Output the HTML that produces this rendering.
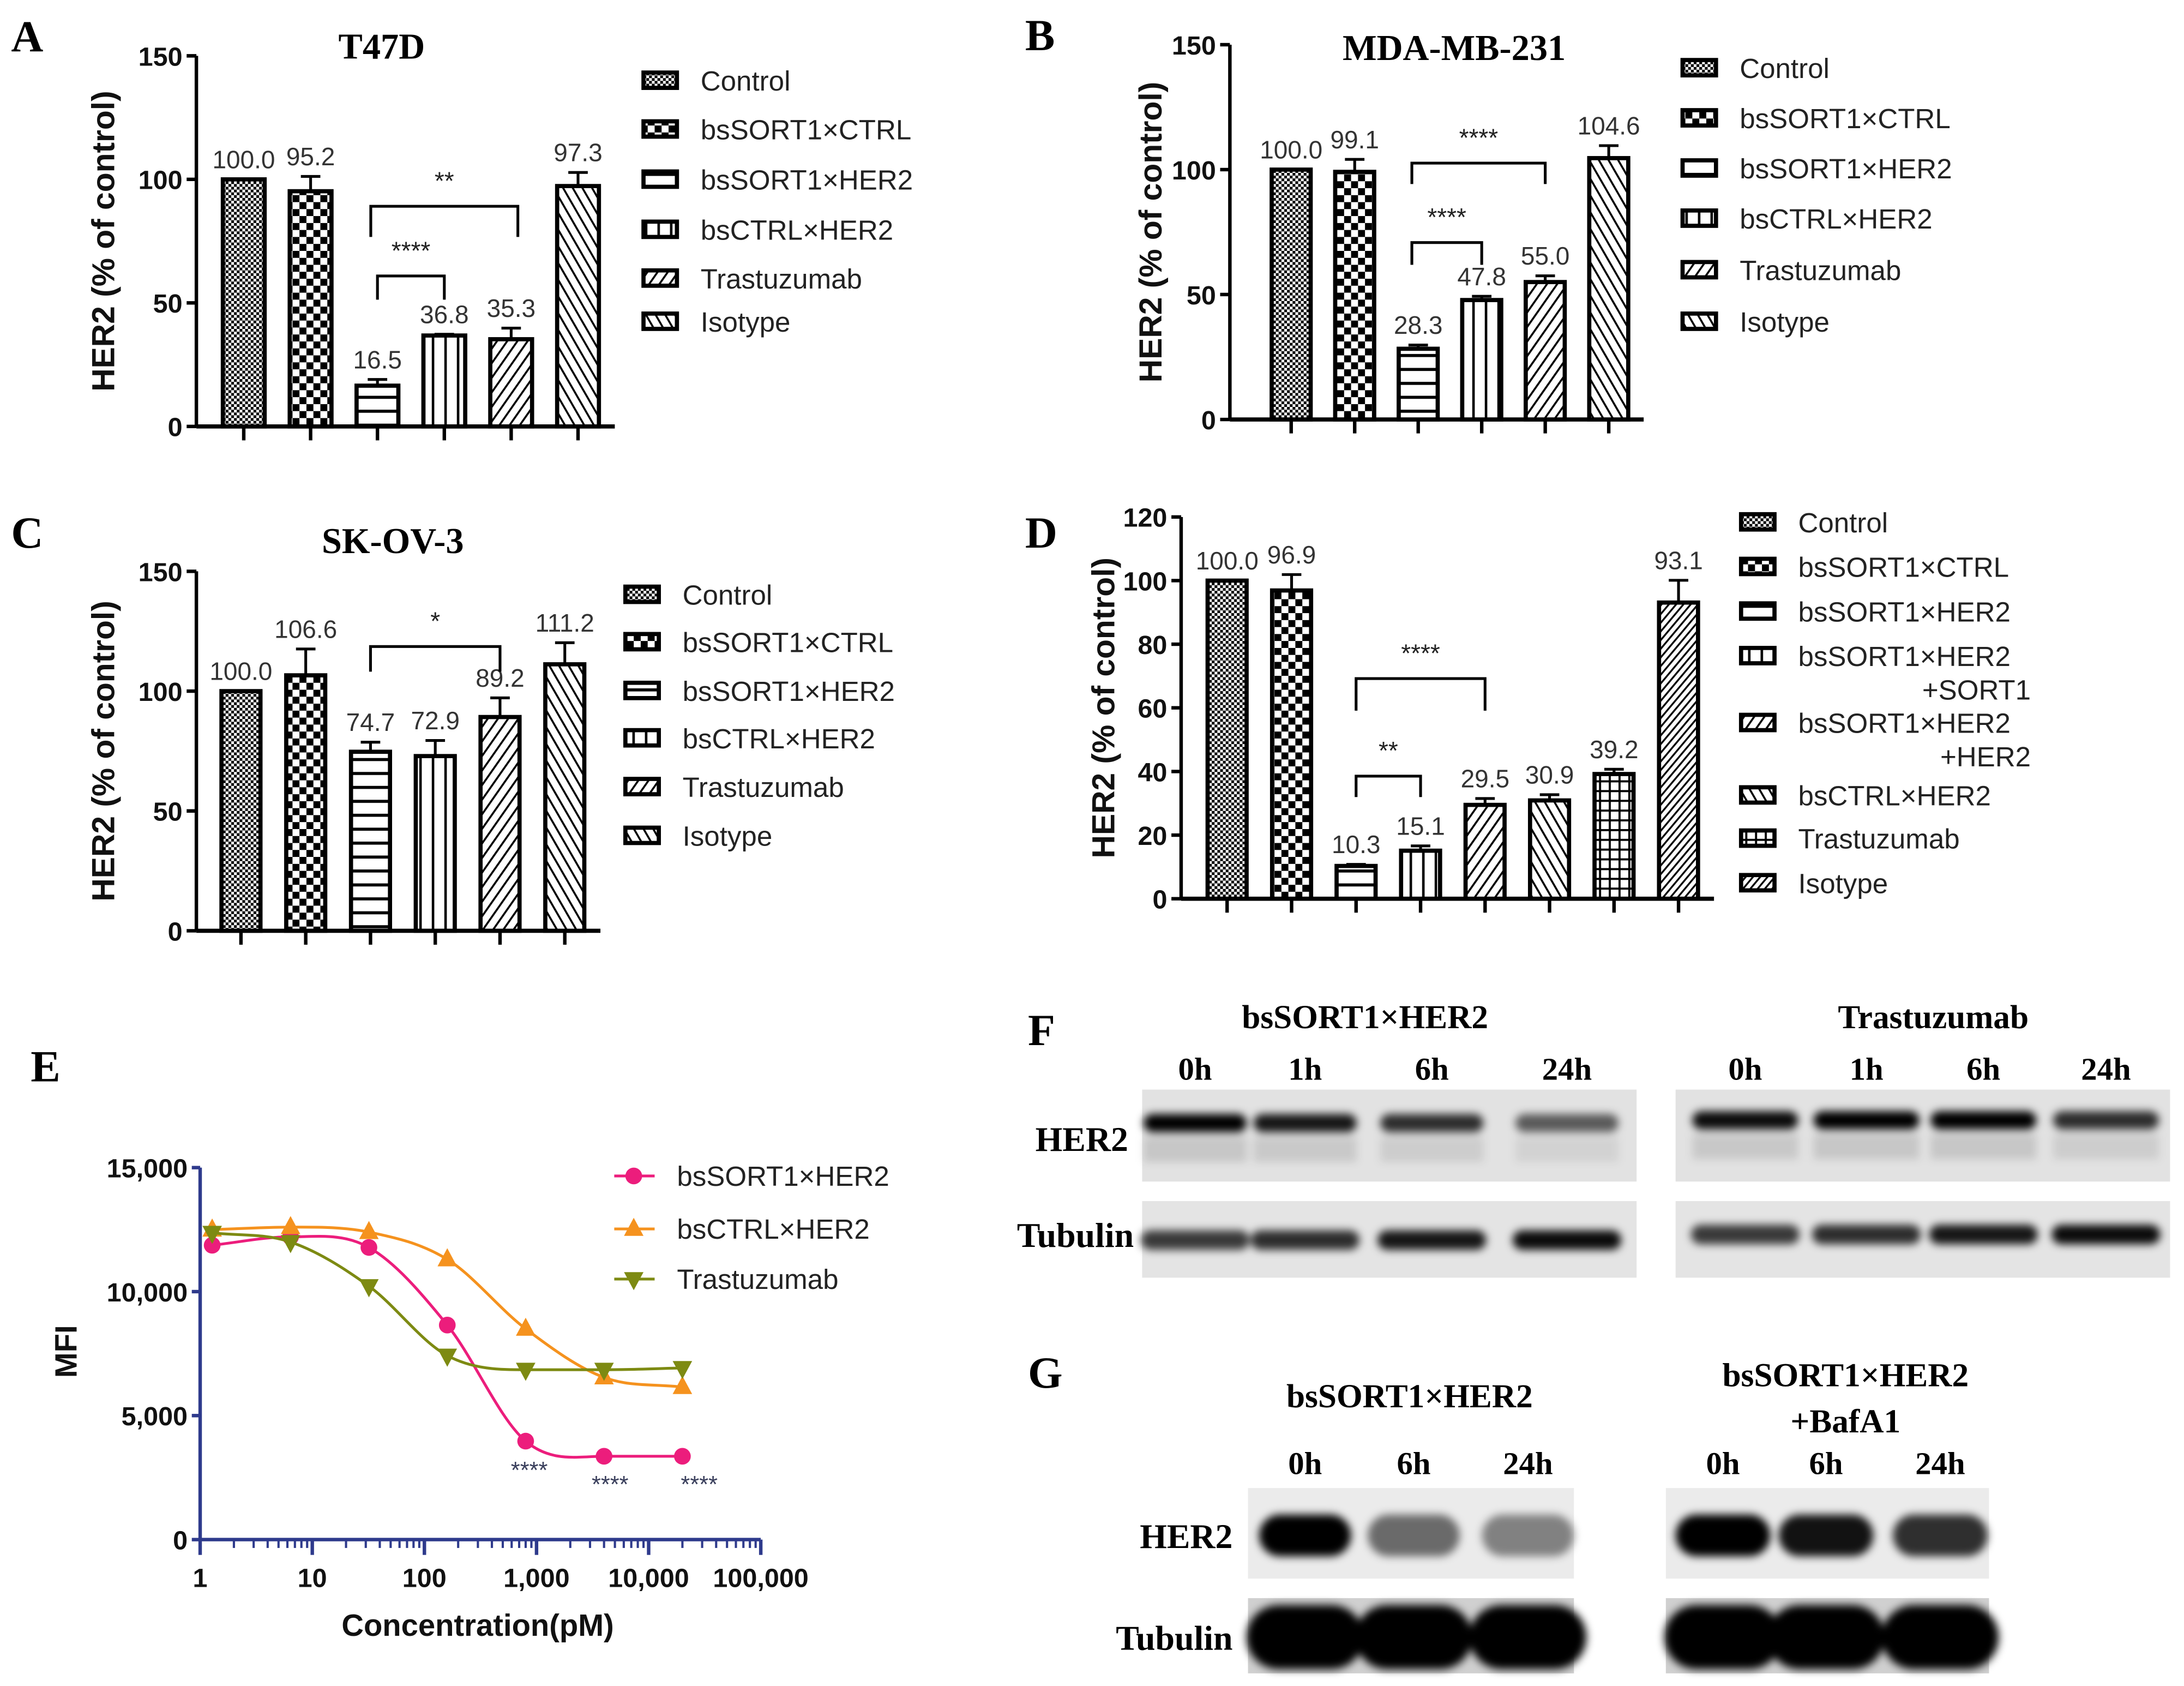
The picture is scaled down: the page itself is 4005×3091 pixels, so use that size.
<!DOCTYPE html>
<html><head><meta charset="utf-8"><style>
html,body{margin:0;padding:0;background:#fff;}
svg{display:block;}
text{font-family:"Liberation Sans",sans-serif;}
.serif{font-family:"Liberation Serif",serif;font-weight:bold;}
</style></head><body>
<svg id="fig" width="4005" height="3091" viewBox="0 0 1568 1210" xmlns="http://www.w3.org/2000/svg">
<defs>
<pattern id="p-fine" patternUnits="userSpaceOnUse" width="4" height="4"><rect width="4" height="4" fill="#fff"/><rect width="2" height="2" fill="#000"/><rect x="2" y="2" width="2" height="2" fill="#000"/></pattern>
<pattern id="p-check" patternUnits="userSpaceOnUse" width="10" height="10"><rect width="10" height="10" fill="#fff"/><rect width="5" height="5" fill="#000"/><rect x="5" y="5" width="5" height="5" fill="#000"/></pattern>
<pattern id="p-h" patternUnits="userSpaceOnUse" width="10" height="10"><rect width="10" height="10" fill="#fff"/><rect y="4" width="10" height="2.2" fill="#000"/></pattern>
<pattern id="p-v" patternUnits="userSpaceOnUse" width="9" height="10"><rect width="9" height="10" fill="#fff"/><rect x="4" width="1.8" height="10" fill="#000"/></pattern>
<pattern id="p-d" patternUnits="userSpaceOnUse" width="6" height="6" patternTransform="rotate(35)"><rect width="6" height="6" fill="#fff"/><rect width="1.4" height="6" fill="#000"/></pattern>
<pattern id="p-b" patternUnits="userSpaceOnUse" width="6" height="6" patternTransform="rotate(-30)"><rect width="6" height="6" fill="#fff"/><rect width="1.4" height="6" fill="#000"/></pattern>
<pattern id="p-grid" patternUnits="userSpaceOnUse" width="7" height="7"><rect width="7" height="7" fill="#fff"/><rect width="7" height="1.5" fill="#000"/><rect width="1.5" height="7" fill="#000"/></pattern>
<pattern id="p-dd" patternUnits="userSpaceOnUse" width="4" height="4" patternTransform="rotate(40)"><rect width="4" height="4" fill="#fff"/><rect width="1.3" height="4" fill="#000"/></pattern>
<filter id="blur3" x="-50%" y="-100%" width="200%" height="300%"><feGaussianBlur stdDeviation="3"/></filter>
<filter id="blur5" x="-50%" y="-100%" width="200%" height="300%"><feGaussianBlur stdDeviation="5"/></filter>
</defs>
</svg>
<script>
const NS='http://www.w3.org/2000/svg';
const svg=document.getElementById('fig');
function mk(tag,attrs,parent,txt){const e=document.createElementNS(NS,tag);for(const k in attrs)e.setAttribute(k,attrs[k]);if(txt!==undefined)e.textContent=txt;(parent||svg).appendChild(e);return e;}

// ---------- data ----------
const A_cats=['Control','bsSORT1×CTRL','bsSORT1×HER2','bsCTRL×HER2','Trastuzumab','Isotype'];
const A_vals=[100.0,95.2,16.5,36.8,35.3,97.3];
const A_errs=[0,6,2.5,0.5,4.5,5.5];
const B_cats=['Control','bsSORT1×CTRL','bsSORT1×HER2','bsCTRL×HER2','Trastuzumab','Isotype'];
const B_vals=[100.0,99.1,28.3,47.8,55.0,104.6];
const B_errs=[0,5,1.5,1.5,2.5,5];
const C_cats=['Control','bsSORT1×CTRL','bsSORT1×HER2','bsCTRL×HER2','Trastuzumab','Isotype'];
const C_vals=[100.0,106.6,74.7,72.9,89.2,111.2];
const C_errs=[0,11,4,6.5,8,9];
const D_cats=['Control','bsSORT1×CTRL','bsSORT1×HER2','bsSORT1×HER2 +SORT1','bsSORT1×HER2 +HER2','bsCTRL×HER2','Trastuzumab','Isotype'];
const D_vals=[100.0,96.9,10.3,15.1,29.5,30.9,39.2,93.1];
const D_errs=[0,5,0.5,1.5,2,1.8,1.5,7];
const ABC_ticks=[0,50,100,150];
const D_ticks=[0,20,40,60,80,100,120];

const E_conc=[1.28,6.4,32,160,800,4000,20000];
const E_sort=[11870,12210,11780,8650,3970,3360,3360];
const E_ctrl=[12500,12600,12400,11300,8500,6540,6150];
const E_tras=[12370,12000,10220,7420,6850,6850,6920];
const E_yticks=[0,5000,10000,15000];
const E_xticks=[1,10,100,1000,10000,100000];

// ---------- helpers ----------
function barPanel(o){
  const g=mk('g',{});
  const y=v=>o.y0-(v/o.ymax)*(o.y0-o.ytop);
  const ax=mk('line',{x1:o.ax,y1:o.ytop,x2:o.ax,y2:o.y0,stroke:'#000','stroke-width':2.5},g);
  
  o.ticks.forEach(t=>{
    mk('line',{x1:o.ax-7,y1:y(t),x2:o.ax,y2:y(t),stroke:'#000','stroke-width':2.5},g);
    const tl=mk('text',{x:o.ax-10,y:y(t)+7,'text-anchor':'end','font-size':19,'font-weight':'bold',fill:'#111'},g,String(t));
    
  });
  const xend=o.cx0+o.step*(o.vals.length-1)+o.step*0.55;
  const xa=mk('line',{x1:o.ax,y1:o.y0,x2:xend,y2:o.y0,stroke:'#000','stroke-width':3},g);
  
  const yt=mk('text',{x:0,y:0,transform:`translate(${o.ytx},${(o.y0+o.ytop)/2}) rotate(-90)`,'text-anchor':'middle','font-size':23,'font-weight':'bold',fill:'#111'},g,'HER2 (% of control)');
  
  o.vals.forEach((v,i)=>{
    const cx=o.cx0+o.step*i;
    mk('line',{x1:cx,y1:o.y0,x2:cx,y2:o.y0+10,stroke:'#000','stroke-width':2.5},g);
    const b=mk('rect',{x:cx-o.bw/2,y:y(v),width:o.bw,height:o.y0-y(v),fill:`url(#${o.pats[i]})`,stroke:'#000','stroke-width':3},g);
    
    const e=o.errs[i];
    if(e>0){
      mk('line',{x1:cx,y1:y(v),x2:cx,y2:y(v+e),stroke:'#000','stroke-width':2},g);
      mk('line',{x1:cx-7,y1:y(v+e),x2:cx+7,y2:y(v+e),stroke:'#000','stroke-width':2},g);
    }
    const vl=mk('text',{x:cx,y:y(v+e)-8,'text-anchor':'middle','font-size':18,fill:'#333'},g,v.toFixed(1));
    
  });
  o.brackets.forEach(br=>{
    const x1=o.cx0+o.step*br[0],x2=o.cx0+o.step*br[1];
    const p=mk('path',{d:`M${x1},${br[3]} V${br[2]} H${x2} V${br[3]}`,fill:'none',stroke:'#000','stroke-width':2},g);
    
    const s=mk('text',{x:(x1+x2)/2,y:br[2]-12,'text-anchor':'middle','font-size':18,fill:'#222'},g,br[4]);
    
  });
  if(o.title){const t=mk('text',{x:o.tx,y:o.ty,'text-anchor':'middle','font-size':26,class:'serif'},g,o.title);
    }
  const L=mk('text',{x:o.lx,y:o.ly,'font-size':32,class:'serif'},g,o.letter);
  
  const lg=mk('g',{},g);
  o.cats.forEach((c,i)=>{
    const yy=o.legY[i];
    const sw=mk('rect',{x:o.legX,y:yy-6,width:24,height:11,fill:`url(#${o.pats[i]})`,stroke:'#000','stroke-width':3},lg);
    
    const parts=c.split(' ');
    const t=mk('text',{x:o.legX+41,y:yy+7,'font-size':20,fill:'#222'},lg,parts[0]);
    
    if(parts[1]){const t2=mk('text',{x:o.legX+41+167,y:yy+31,'font-size':20,fill:'#222','text-anchor':'end'},lg,parts[1]);
      }
  });
}

barPanel({name:'panel-a-chart',letter:'A',lx:8,ly:37,title:'T47D',tx:274,ty:42,ax:141,y0:306,ytop:40,ymax:150,ticks:ABC_ticks,ytx:82,
 cx0:175,step:48,bw:30,vals:A_vals,errs:A_errs,cats:A_cats,pats:['p-fine','p-check','p-h','p-v','p-d','p-b'],
 brackets:[[2,3,198,215,'****'],[1.9,4.1,148,170,'**']],legX:462,legY:[58,93,129,165,200,231]});
barPanel({name:'panel-b-chart',letter:'B',lx:736,ly:36,title:'MDA-MB-231',tx:1044,ty:43,ax:883,y0:301,ytop:32,ymax:150,ticks:ABC_ticks,ytx:834,
 cx0:927,step:45.6,bw:28,vals:B_vals,errs:B_errs,cats:B_cats,pats:['p-fine','p-check','p-h','p-v','p-d','p-b'],
 brackets:[[1.9,3,174,190,'****'],[1.9,4,117,132,'****']],legX:1208,legY:[49,85,121,157,194,231]});
barPanel({name:'panel-c-chart',letter:'C',lx:8,ly:393,title:'SK-OV-3',tx:282,ty:397,ax:141,y0:668,ytop:410,ymax:150,ticks:ABC_ticks,ytx:82,
 cx0:173,step:46.5,bw:28,vals:C_vals,errs:C_errs,cats:C_cats,pats:['p-fine','p-check','p-h','p-v','p-d','p-b'],
 brackets:[[2,4,464,482,'*']],legX:449,legY:[427,461,496,530,565,600]});
barPanel({name:'panel-d-chart',letter:'D',lx:736,ly:393,ax:848,y0:645,ytop:371,ymax:120,ticks:D_ticks,ytx:800,
 cx0:881,step:46.3,bw:28,vals:D_vals,errs:D_errs,cats:D_cats,pats:['p-fine','p-check','p-h','p-v','p-d','p-b','p-grid','p-dd'],
 brackets:[[2,3,557,572,'**'],[2,4,487,510,'****']],legX:1250,legY:[375,407,439,471,519,571,602,634]});

// ---------- panel E ----------
(function(){
  const g=mk('g',{});
  const X0=143.7,PD=80.5,Y0=1105,YT=838;
  const xs=v=>X0+Math.log10(v)*PD;
  const ys=v=>Y0-v/15000*(Y0-YT);
  const ax='#2e3a8c';
  const L=mk('text',{x:22,y:776,'font-size':32,class:'serif'},g,'E');
  const ya=mk('line',{x1:X0,y1:YT,x2:X0,y2:Y0,stroke:ax,'stroke-width':2.5},g);
  
  E_yticks.forEach(t=>{mk('line',{x1:X0-6,y1:ys(t),x2:X0,y2:ys(t),stroke:ax,'stroke-width':2.5},g);
    const tl=mk('text',{x:X0-9,y:ys(t)+7,'text-anchor':'end','font-size':19,'font-weight':'bold',fill:'#111'},g,t.toLocaleString('en-US'));
    });
  const xa=mk('line',{x1:X0,y1:Y0,x2:xs(100000),y2:Y0,stroke:ax,'stroke-width':2.5},g);
  
  for(let d=0;d<5;d++)for(let m=2;m<=9;m++){const xx=xs(m*Math.pow(10,d));mk('line',{x1:xx,y1:Y0,x2:xx,y2:Y0+6,stroke:ax,'stroke-width':1.6},g);}
  E_xticks.forEach(t=>{mk('line',{x1:xs(t),y1:Y0,x2:xs(t),y2:Y0+11,stroke:ax,'stroke-width':2.5},g);
    const tl=mk('text',{x:xs(t),y:Y0+34,'text-anchor':'middle','font-size':19,'font-weight':'bold',fill:'#111'},g,t.toLocaleString('en-US'));
    });
  const xt=mk('text',{x:343,y:1174,'text-anchor':'middle','font-size':22,'font-weight':'bold',fill:'#111'},g,'Concentration(pM)');
  
  const yt=mk('text',{x:0,y:0,transform:'translate(55,970) rotate(-90)','text-anchor':'middle','font-size':22,'font-weight':'bold',fill:'#111'},g,'MFI');
  
  function curve(vals){
    const px=E_conc.map(xs),py=vals.map(ys),n=px.length;
    const d=[];for(let i=0;i<n-1;i++)d.push((py[i+1]-py[i])/(px[i+1]-px[i]));
    const m=[d[0]];for(let i=1;i<n-1;i++)m.push(d[i-1]*d[i]<=0?0:(d[i-1]+d[i])/2);m.push(d[n-2]);
    let s=`M${px[0]},${py[0]}`;
    for(let i=0;i<n-1;i++){const h=px[i+1]-px[i];s+=` C${px[i]+h/3},${py[i]+m[i]*h/3} ${px[i+1]-h/3},${py[i+1]-m[i+1]*h/3} ${px[i+1]},${py[i+1]}`;}
    return s;}
  const series=[['bsSORT1×HER2',E_sort,'#ec1d7c','circle'],['bsCTRL×HER2',E_ctrl,'#f5921e','up'],['Trastuzumab',E_tras,'#7d8a12','down']];
  function marker(kind,x,y,c,par){
    if(kind==='circle')return mk('circle',{cx:x,cy:y,r:6,fill:c},par);
    if(kind==='up')return mk('path',{d:`M${x},${y-8} L${x+7},${y+5} L${x-7},${y+5}Z`,fill:c},par);
    return mk('path',{d:`M${x},${y+8} L${x+7},${y-5} L${x-7},${y-5}Z`,fill:c},par);}
  series.forEach((s,si)=>{
    const sg=mk('g',{},g);
    const p=mk('path',{d:curve(s[1]),fill:'none',stroke:s[2],'stroke-width':2},sg);
    
    s[1].forEach((v,i)=>{const mm=marker(s[3],xs(E_conc[i]),ys(v),s[2],sg);
      });
    const ly=[844,882,918][si];
    mk('line',{x1:441,y1:ly,x2:470,y2:ly,stroke:s[2],'stroke-width':2},g);
    marker(s[3],455,ly,s[2],g);
    const lt=mk('text',{x:486,y:ly+7,'font-size':20,fill:'#222'},g,s[0]);
    
  });
  [[380,1061],[438,1071],[502,1071]].forEach(p=>{const t=mk('text',{x:p[0],y:p[1],'text-anchor':'middle','font-size':17,fill:'#3a3f5c'},g,'****');
    });
})();

// ---------- blots ----------
const F_lanes=['0h','1h','6h','24h'];
const F_left_her2=[1.0,0.9,0.8,0.6];
const F_right_her2=[0.95,1.0,1.0,0.8];
const F_tub=[0.75,0.8,0.9,0.95];
const G_lanes=['0h','6h','24h'];
const G_left_her2=[1.0,0.55,0.45];
const G_right_her2=[1.0,0.92,0.8];
function blot(name,x,y,w,h,bg,lanes,ints,bandY,bandH,bandW,filt,faint){
  const g=mk('g',{});
  mk('rect',{x:x,y:y,width:w,height:h,fill:bg},g);
  const cg=mk('g',{filter:`url(#${filt})`},g);
  lanes.forEach((cx,i)=>{
    if(faint)mk('rect',{x:cx-bandW/2,y:bandY+10,width:bandW,height:18,fill:'#000','fill-opacity':0.12*ints[i]},cg);
    const b=mk('rect',{x:cx-bandW/2,y:bandY-bandH/2,width:bandW,height:bandH,rx:bandH/2,fill:'#000','fill-opacity':ints[i]},cg);
    });
}
function stxt(x,y,s,t,name,anchor){const e=mk('text',{x:x,y:y,'font-size':s,class:'serif','text-anchor':anchor||'middle'},svg,t);
  }
stxt(738,750,32,'F','panel-letter','start');
stxt(980,738,24,'bsSORT1×HER2','blot-title');
stxt(1388,738,24,'Trastuzumab','blot-title');
const FL=[858,937,1028,1125],FR=[1253,1340,1424,1512];
F_lanes.forEach((t,i)=>{stxt(FL[i],775,23,t,'lane-label');stxt(FR[i],775,23,t,'lane-label');});
stxt(810,826,25,'HER2','row-label','end');
stxt(814,895,25,'Tubulin','row-label','end');
blot('blot-f-her2-left',820,782,355,66,'#e2e2e2',FL,F_left_her2,806,13,74,'blur3',true);
blot('blot-f-her2-right',1203,782,355,66,'#e2e2e2',FR,F_right_her2,804,13,76,'blur3',true);
blot('blot-f-tub-left',820,862,355,55,'#e4e4e4',FL,F_tub,890,14,78,'blur3',false);
blot('blot-f-tub-right',1203,862,355,55,'#e4e4e4',FR,F_tub,886,14,78,'blur3',false);
stxt(738,996,32,'G','panel-letter','start');
stxt(1012,1010,24,'bsSORT1×HER2','blot-title');
stxt(1325,995,24,'bsSORT1×HER2','blot-title');
stxt(1325,1028,24,'+BafA1','blot-title');
const GL=[937,1015,1097],GR=[1237,1311,1393];
G_lanes.forEach((t,i)=>{stxt(GL[i],1058,23,t,'lane-label');stxt(GR[i],1058,23,t,'lane-label');});
stxt(885,1111,25,'HER2','row-label','end');
stxt(885,1184,25,'Tubulin','row-label','end');
blot('blot-g-her2-left',896,1068,234,65,'#ebebeb',GL,G_left_her2,1102,30,66,'blur3',false);
blot('blot-g-her2-right',1196,1068,232,65,'#ebebeb',GR,G_right_her2,1102,30,68,'blur3',false);
blot('blot-g-tub-left',896,1147,234,54,'#d0d0d0',GL,[1,1,1],1175,46,84,'blur3',false);
blot('blot-g-tub-right',1196,1147,232,54,'#d0d0d0',GR,[1,1,1],1175,46,84,'blur3',false);
</script>
</body></html>
